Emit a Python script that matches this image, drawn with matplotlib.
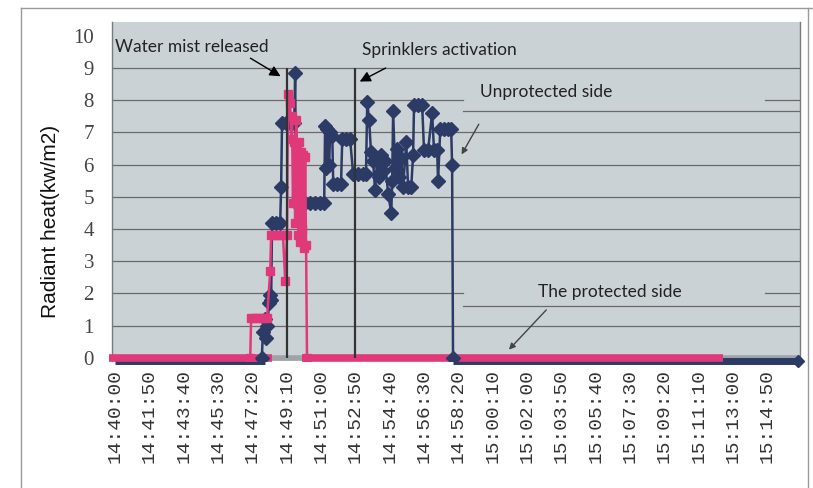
import numpy as np
import matplotlib.pyplot as plt
from matplotlib.lines import Line2D
from matplotlib.transforms import ScaledTranslation

# ── Data: time in seconds after 14:40:00, radiant heat in kW/m2 ──
tick_labels = ["14:40:00", "14:41:50", "14:43:40", "14:45:30", "14:47:20",
               "14:49:10", "14:51:00", "14:52:50", "14:54:40", "14:56:30",
               "14:58:20", "15:00:10", "15:02:00", "15:03:50", "15:05:40",
               "15:07:30", "15:09:20", "15:11:10", "15:13:00", "15:14:50"]
tick_step = 110

unprot_t = [470, 474, 481, 484, 487, 494, 497, 500, 503, 516,
            529, 532, 535, 548, 561, 574, 577, 580, 593, 609,
            625, 641, 657, 670, 673, 676, 680, 686, 689, 696,
            699, 712, 724, 728, 740, 753, 763, 779, 795, 804,
            808, 814, 820, 827, 833, 840, 846, 853, 859, 865,
            875, 885, 888, 891, 897, 904, 910, 917, 923, 933,
            939, 949, 955, 958, 971, 984, 990, 1003, 1016, 1022,
            1032, 1035, 1042, 1054, 1067, 1077, 1080, 1083]
unprot_v = [0, 0.8, 1.2, 0.6, 1.0, 1.7, 1.95, 1.8, 4.2, 4.2,
            4.2, 5.3, 7.3, 7.3, 7.3, 7.3, 8.85, 4.8, 4.8, 4.8,
            4.8, 4.8, 4.8, 4.8, 7.2, 5.9, 7.1, 6.0, 7.0, 6.9,
            5.4, 5.4, 5.4, 6.8, 6.8, 6.8, 5.7, 5.7, 5.7, 5.7,
            7.95, 7.4, 6.4, 6.1, 5.2, 6.2, 5.6, 6.3, 5.8, 6.1,
            5.1, 4.5, 5.5, 7.65, 5.9, 6.5, 5.6, 6.2, 5.3, 6.7,
            5.3, 5.3, 6.3, 7.85, 7.85, 7.85, 6.45, 6.45, 7.6, 6.45,
            6.45, 5.5, 7.1, 7.1, 7.1, 7.1, 6.0, 0]

prot_t = [433, 436, 449, 462, 474, 487, 497, 500, 513, 526,
          538, 545, 551, 554, 561, 564, 567, 570, 574, 577,
          580, 583, 587, 590, 593, 596, 599, 603, 606, 609,
          612, 615]
prot_v = [0, 1.25, 1.25, 1.25, 1.25, 1.25, 2.7, 3.8, 3.8, 3.8,
          3.8, 2.4, 3.8, 8.2, 7.9, 6.8, 7.5, 4.8, 6.7, 4.2,
          7.4, 6.6, 3.8, 6.7, 3.6, 6.4, 4.0, 6.3, 3.4, 6.25,
          3.5, 0]

# stretches where the reading sits at zero (start, end)
unprot_zero = [(0, 481), (1083, 2190)]
prot_zero = [(-20, 503), (600, 1949)]

# event times
water_mist_t = 550
sprinkler_t = 770

# ── Style ───────────────────────────────────────────
NAVY = "#2C3A66"
PINK = "#E0397A"
BG = "#CBD2D6"
GRID = "#6A6A6A"

fig = plt.figure(figsize=(8.13, 4.88), dpi=100)
ax = fig.add_axes([112/813, 1 - 361/488, (800 - 112)/813, (361 - 22)/488])
ax.set_facecolor(BG)
ax.set_xlim(-10, 2195)
ax.set_ylim(-0.1, 10.43)

# gridlines (text boxes hide parts of 2 and 8)
box_l, box_r = 1115, 2083
for v in range(1, 10):
    if v in (2, 8):
        ax.plot([-10, box_l], [v, v], color=GRID, lw=0.9, zorder=1)
        ax.plot([box_r, 2195], [v, v], color=GRID, lw=0.9, zorder=1)
    else:
        ax.axhline(v, color=GRID, lw=0.9, zorder=1)
ax.plot([box_l, 2195], [7.65, 7.65], color=GRID, lw=0.9, zorder=1)
ax.plot([box_l, 2195], [1.6, 1.6], color=GRID, lw=0.9, zorder=1)

# axis floor
ax.axhline(0, color="#9DA3A7", lw=4, zorder=2)

# zero stretches drawn as thick bars
down = ax.transData + ScaledTranslation(0, -2/72, fig.dpi_scale_trans)
for a, b in unprot_zero:
    ax.plot([a, b], [0, 0], color=NAVY, lw=5, solid_capstyle="butt",
            transform=down, zorder=3, clip_on=False)
ax.plot([unprot_zero[-1][1]], [0], marker="D", ms=6.5, color=NAVY,
        transform=down, zorder=3, clip_on=False)
for a, b in prot_zero:
    ax.plot([a, b], [0, 0], color=PINK, lw=5.5, solid_capstyle="butt",
            zorder=4, clip_on=False)

# series
ax.plot(unprot_t, unprot_v, color=NAVY, lw=1.8, marker="D", ms=7,
        zorder=5)
ax.plot(prot_t, prot_v, color=PINK, lw=1.8, marker="s", ms=6.2,
        zorder=6)

# event lines
ax.vlines([water_mist_t, sprinkler_t], 0, 9, color="#333333", lw=1.6,
          zorder=7)

# annotations
txt = dict(family="Lato", fontsize=12.5, color="#222222", zorder=8)
ax.text(0, 9.66, "Water mist released", va="center", ha="left", **txt)
ax.text(792, 9.57, "Sprinklers activation", va="center", ha="left", **txt)
ax.text(1170, 8.26, "Unprotected side", va="center", ha="left", **txt)
ax.text(1356, 2.05, "The protected side", va="center", ha="left", **txt)

big = dict(arrowstyle="-|>", color="black", lw=1.0, mutation_scale=16)
small = dict(arrowstyle="-|>", color="#444444", lw=1.0, mutation_scale=9)
ax.annotate("", xy=(538, 8.7), xytext=(426, 9.35), arrowprops=big, zorder=8)
ax.annotate("", xy=(776, 8.54), xytext=(875, 9.04), arrowprops=big, zorder=8)
ax.annotate("", xy=(1106, 6.24), xytext=(1170, 7.33), arrowprops=small,
            zorder=8)
ax.annotate("", xy=(1256, 0.19), xytext=(1388, 1.55), arrowprops=small,
            zorder=8)

# ticks
ax.set_xticks(np.arange(len(tick_labels)) * tick_step)
ax.set_xticklabels(tick_labels, rotation=90, family="Liberation Mono",
                   fontsize=14, color="#333333")
ax.set_yticks(range(11))
ax.set_yticklabels([str(i) for i in range(11)], family="Liberation Serif",
                   fontsize=15, color="#444444")
ax.tick_params(axis="x", length=0, pad=6)
ax.tick_params(axis="y", length=0, pad=13)

for s in ("top", "bottom"):
    ax.spines[s].set_visible(False)
for s in ("left", "right"):
    ax.spines[s].set_color("#7A7A7A")
    ax.spines[s].set_linewidth(1.0)

fig.text(50/813, 1 - 221/488, "Radiant heat(kw/m2)", rotation=90,
         ha="center", va="center", family="Liberation Sans", fontsize=15,
         color="#111111")

# scanned-page frame
frame = dict(transform=fig.transFigure, color="#9A9A9A", lw=1.0)
fig.add_artist(Line2D([21/813, 21/813], [0, 1 - 8/488], **frame))
fig.add_artist(Line2D([21/813, 1], [1 - 8/488, 1 - 8/488], **frame))
fig.add_artist(Line2D([808/813, 808/813], [0, 1 - 8/488], **frame))

fig.savefig("out.png", dpi=100)
